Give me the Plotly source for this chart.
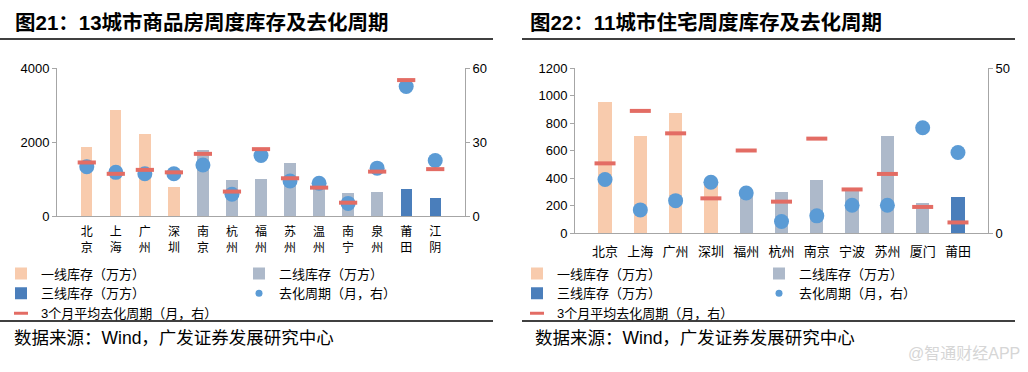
import plotly.graph_objects as go

# ---------------- data: chart 21 (13 cities) ----------------
cities_a = ["北京", "上海", "广州", "深圳", "南京", "杭州", "福州", "苏州", "温州", "南宁", "泉州", "莆田", "江阴"]
tier1_a = [1870, 2870, 2220, 790, None, None, None, None, None, None, None, None, None]
tier2_a = [None, None, None, None, 1790, 980, 1000, 1440, 780, 630, 660, None, None]
tier3_a = [None, None, None, None, None, None, None, None, None, None, None, 730, 490]
cycle_a = [20.0, 17.7, 17.1, 17.1, 20.7, 8.8, 24.5, 14.2, 13.3, 5.1, 19.4, 52.5, 22.5]
avg3m_a = [21.7, 17.1, 18.7, 17.7, 25.2, 9.9, 27.1, 15.3, 11.5, 5.4, 18.0, 55.1, 19.0]
left_ticks_a = [0, 2000, 4000]
right_ticks_a = [0, 30, 60]

# ---------------- data: chart 22 (11 cities) ----------------
cities_b = ["北京", "上海", "广州", "深圳", "福州", "杭州", "南京", "宁波", "苏州", "厦门", "莆田"]
tier1_b = [955, 708, 875, 370, None, None, None, None, None, None, None]
tier2_b = [None, None, None, None, 280, 300, 388, 310, 708, 220, None]
tier3_b = [None, None, None, None, None, None, None, None, None, None, 264]
cycle_b = [16.2, 7.0, 9.8, 15.4, 12.1, 3.5, 5.2, 8.4, 8.4, 31.9, 24.4]
avg3m_b = [21.1, 37.0, 30.2, 10.5, 25.0, 9.5, 28.6, 13.2, 17.9, 7.9, 3.2]
left_ticks_b = [0, 200, 400, 600, 800, 1000, 1200]
right_ticks_b = [0, 50]

names = ["一线库存（万方）", "二线库存（万方）", "三线库存（万方）", "去化周期（月，右）", "3个月平均去化周期（月，右）"]
title_a = "图21：13城市商品房周度库存及去化周期"
title_b = "图22：11城市住宅周度库存及去化周期"
source = "数据来源：Wind，广发证券发展研究中心"
watermark = "@智通财经APP"

# ---------------- style ----------------
W, H = 1028, 372
C1, C2, C3 = "#F8CBAD", "#ADB9CA", "#4A7EBB"
CBLUE, CRED = "#5B9BD5", "#E36C64"
AXC = "#A6A6A6"
FONT = "Liberation Sans, Noto Sans CJK SC, sans-serif"
CJK = "Noto Sans CJK SC, sans-serif"


def fx(x):
    return x / W


def fy(y):
    return 1 - y / H


fig = go.Figure()


def add_chart(cities, t1, t2, t3, cyc, avg, xa, ya, ya2, leg1, leg2, bw, msize, dash):
    for vals, col, nm, lg in [(t1, C1, names[0], leg1), (t2, C2, names[1], leg2), (t3, C3, names[2], leg1)]:
        fig.add_trace(go.Bar(x=cities, y=vals, marker=dict(color=col, line=dict(width=0)),
                             width=bw, name=nm, xaxis=xa, yaxis=ya, legend=lg, showlegend=True))
    fig.add_trace(go.Scatter(x=cities, y=cyc, mode="markers", xaxis=xa, yaxis=ya2,
                             marker=dict(color=CBLUE, size=msize), showlegend=False))
    fig.add_trace(go.Scatter(x=cities, y=avg, mode="markers", xaxis=xa, yaxis=ya2,
                             marker=dict(symbol="line-ew", size=dash, color=CRED,
                                         line=dict(color=CRED, width=4)), showlegend=False))
    # legend-only entries with legend-sized symbols
    fig.add_trace(go.Scatter(x=[None], y=[None], mode="markers", xaxis=xa, yaxis=ya2, name=names[3],
                             legend=leg2, marker=dict(color=CBLUE, size=7)))
    fig.add_trace(go.Scatter(x=[None], y=[None], mode="markers", xaxis=xa, yaxis=ya2, name=names[4],
                             legend=leg1, marker=dict(symbol="line-ew", size=10, color=CRED,
                                                      line=dict(color=CRED, width=3))))


add_chart(cities_a, tier1_a, tier2_a, tier3_a, cycle_a, avg3m_a, "x", "y", "y2", "legend", "legend2", 0.39, 15, 13)
add_chart(cities_b, tier1_b, tier2_b, tier3_b, cycle_b, avg3m_b, "x2", "y3", "y4", "legend3", "legend4", 0.375, 15, 15)

tickfont = dict(family=FONT, size=13, color="#000")
common_y = dict(showgrid=False, zeroline=False, showline=True, linecolor=AXC, linewidth=1,
                ticks="outside", ticklen=4, tickcolor=AXC, tickfont=tickfont, fixedrange=True)
common_x = dict(showgrid=False, zeroline=False, showline=True, linecolor=AXC, linewidth=1,
                ticks="", type="category", fixedrange=True)

dom_xa = [fx(57), fx(465)]
dom_ya = [fy(216), fy(68)]
dom_xb = [fx(575), fx(988)]
dom_yb = [fy(233), fy(68)]

fig.update_layout(
    width=W, height=H, margin=dict(l=0, r=0, t=0, b=0, autoexpand=False),
    paper_bgcolor="white", plot_bgcolor="rgba(0,0,0,0)",
    barmode="overlay", bargap=0,
    font=dict(family=FONT, size=13, color="#000"),
    xaxis=dict(domain=dom_xa, anchor="y", tickmode="array", tickvals=cities_a,
               ticktext=["<br>".join(list(c)) for c in cities_a],
               tickfont=dict(family=CJK, size=12, color="#000"), ticklabelstandoff=5, **common_x),
    yaxis=dict(domain=dom_ya, anchor="x", range=[0, 4000], tickvals=left_ticks_a, **common_y),
    yaxis2=dict(overlaying="y", anchor="x", side="right", range=[0, 60], tickvals=right_ticks_a, **common_y),
    xaxis2=dict(domain=dom_xb, anchor="y3", tickfont=dict(family=CJK, size=13, color="#000"),
                ticklabelstandoff=6, **common_x),
    yaxis3=dict(domain=dom_yb, anchor="x2", range=[0, 1200], tickvals=left_ticks_b, **common_y),
    yaxis4=dict(overlaying="y3", anchor="x2", side="right", range=[0, 50], tickvals=right_ticks_b, **common_y),
)

legfont = dict(family=FONT, size=13, color="#000")
legtop = fy(258.5)
for key, x in [("legend", 1), ("legend2", 239), ("legend3", 517), ("legend4", 759)]:
    fig.update_layout(**{key: dict(x=fx(x), y=legtop, xanchor="left", yanchor="top",
                                   orientation="v", bgcolor="rgba(0,0,0,0)", borderwidth=0,
                                   font=legfont, tracegroupgap=0, traceorder="normal",
                                   itemclick=False, itemdoubleclick=False)})

# rules
for x0, x1 in [(0, 493), (522, 1015)]:
    for y in (39, 321):
        fig.add_shape(type="line", xref="paper", yref="paper", x0=fx(x0), x1=fx(x1),
                      y0=fy(y), y1=fy(y), line=dict(color="#000", width=1.5))

# titles and sources
for txt, x in [(title_a, 13), (title_b, 528)]:
    fig.add_annotation(text="<b>" + txt + "</b>", x=fx(x), y=fy(23), xref="paper", yref="paper",
                       xanchor="left", yanchor="middle", showarrow=False,
                       font=dict(family=FONT, size=20.5, color="#000"))
for x in (12, 533):
    fig.add_annotation(text=source, x=fx(x), y=fy(338), xref="paper", yref="paper",
                       xanchor="left", yanchor="middle", showarrow=False,
                       font=dict(family=FONT, size=17.5, color="#000"))
fig.add_annotation(text=watermark, x=fx(1022), y=fy(353), xref="paper", yref="paper",
                   xanchor="right", yanchor="middle", showarrow=False,
                   font=dict(family=FONT, size=16, color="#D6D6D6"))

fig.write_html("out.html", config={"displayModeBar": False},
               post_script="document.body.style.margin='0';")
